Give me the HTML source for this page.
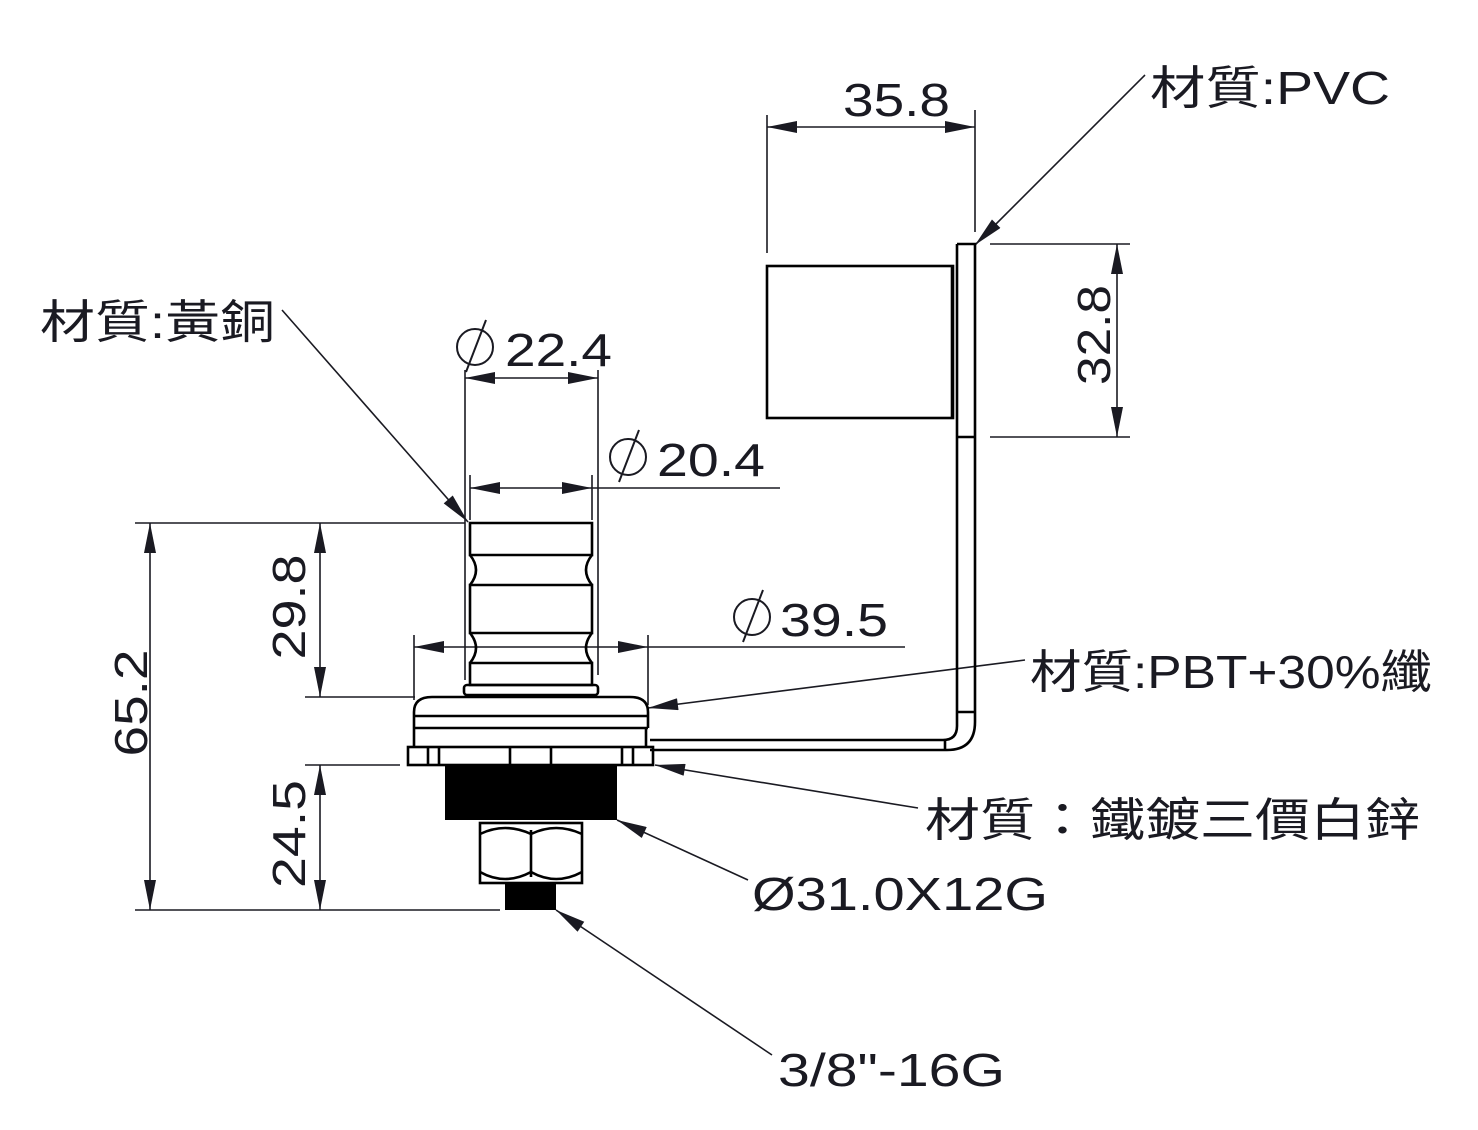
<!DOCTYPE html>
<html><head><meta charset="utf-8"><style>html,body{margin:0;padding:0;background:#fff}svg{display:block}
text{font-family:"Liberation Sans","Noto Sans CJK TC",sans-serif;fill:#1a1a22}</style></head>
<body>
<svg width="1478" height="1130" viewBox="0 0 1478 1130" xmlns="http://www.w3.org/2000/svg">
<defs>
<marker id="a" viewBox="0 0 10 4" refX="10" refY="2" markerWidth="42" markerHeight="12" markerUnits="userSpaceOnUse" orient="auto-start-reverse"><path d="M0,0 L10,2 L0,4z" fill="#1a1a22"/></marker>
</defs>
<g stroke="#1a1a22" stroke-width="1.6" fill="none">
<line x1="767" y1="115" x2="767" y2="253"/><line x1="975" y1="110" x2="975" y2="232"/>
<line x1="767" y1="127" x2="975" y2="127" marker-start="url(#a)" marker-end="url(#a)"/>
<line x1="990" y1="244" x2="1130" y2="244"/><line x1="990" y1="437" x2="1130" y2="437"/>
<line x1="1117" y1="244" x2="1117" y2="437" marker-start="url(#a)" marker-end="url(#a)"/>
<line x1="465" y1="370" x2="465" y2="680"/><line x1="598" y1="370" x2="598" y2="675"/>
<line x1="465" y1="378" x2="505" y2="378" marker-start="url(#a)"/><line x1="505" y1="378" x2="598" y2="378" marker-end="url(#a)"/>
<line x1="470" y1="475" x2="470" y2="520"/><line x1="592" y1="475" x2="592" y2="520"/>
<line x1="470" y1="488" x2="592" y2="488" marker-start="url(#a)" marker-end="url(#a)"/>
<line x1="592" y1="488" x2="780" y2="488"/>
<line x1="414" y1="635" x2="414" y2="700"/><line x1="648" y1="635" x2="648" y2="705"/>
<line x1="414" y1="647" x2="455" y2="647" marker-start="url(#a)"/>
<line x1="455" y1="647" x2="608" y2="647"/>
<line x1="608" y1="647" x2="648" y2="647" marker-end="url(#a)"/>
<line x1="648" y1="647" x2="905" y2="647"/>
<line x1="135" y1="523" x2="465" y2="523"/><line x1="305" y1="697" x2="415" y2="697"/>
<line x1="305" y1="765" x2="400" y2="765"/><line x1="135" y1="910" x2="500" y2="910"/>
<line x1="320" y1="523" x2="320" y2="697" marker-start="url(#a)" marker-end="url(#a)"/>
<line x1="150" y1="523" x2="150" y2="910" marker-start="url(#a)" marker-end="url(#a)"/>
<line x1="320" y1="765" x2="320" y2="910" marker-start="url(#a)" marker-end="url(#a)"/>
<line x1="282" y1="310" x2="468" y2="522" marker-end="url(#a)"/>
<line x1="1145" y1="75" x2="975" y2="245" marker-end="url(#a)"/>
<line x1="1025" y1="660" x2="648" y2="708" marker-end="url(#a)"/>
<line x1="918" y1="808" x2="655" y2="765" marker-end="url(#a)"/>
<line x1="748" y1="880" x2="617" y2="820" marker-end="url(#a)"/>
<line x1="772" y1="1055" x2="556" y2="910" marker-end="url(#a)"/>
</g>
<g stroke="#000" stroke-width="2.6" fill="none">
<path d="M957,244 L975,244 L975,722 Q975,750 947,750 L650,750"/>
<path d="M957,244 L957,726 Q957,740 943,740 L650,740"/>
<line x1="957" y1="437" x2="975" y2="437"/>
<line x1="945" y1="740" x2="945" y2="750"/>
<line x1="957" y1="712" x2="975" y2="712"/>
<rect x="767" y="266" width="186" height="152"/>
<line x1="952" y1="266" x2="952" y2="418"/>
<path d="M470,523 H592 V555 H470 Z"/>
<path d="M470,555 Q482,570 470,585 M592,555 Q580,570 592,585"/>
<path d="M470,585 H592 V633 H470 Z"/>
<path d="M470,633 Q482,648 470,663 M592,633 Q580,648 592,663"/>
<path d="M470,663 H592 V685 H470 Z"/>
<rect x="464" y="685" width="134" height="10" rx="3"/>
<path d="M414,728 V712 Q414,697 432,697 H630 Q648,697 648,712 V728"/>
<line x1="414" y1="716" x2="648" y2="716"/>
<line x1="414" y1="728" x2="648" y2="728"/>
<line x1="414" y1="728" x2="414" y2="747"/><line x1="646" y1="728" x2="646" y2="747"/>
<rect x="408" y="747" width="245" height="18"/>
<line x1="428" y1="747" x2="428" y2="765"/><line x1="439" y1="747" x2="439" y2="765"/>
<line x1="510" y1="747" x2="510" y2="765"/><line x1="551" y1="747" x2="551" y2="765"/>
<line x1="622" y1="747" x2="622" y2="765"/><line x1="633" y1="747" x2="633" y2="765"/>
<rect x="480" y="823" width="102" height="60"/>
<line x1="531" y1="830" x2="531" y2="877"/>
<path d="M480,834 Q505,822 531,834 Q556,822 582,834 M480,872 Q505,886 531,872 Q556,886 582,872"/>
</g>
<rect x="445" y="765" width="172" height="55" fill="#000"/>
<rect x="505" y="883" width="51" height="27" fill="#000"/>
<g font-size="46" lengthAdjust="spacingAndGlyphs">
<text x="843" y="116" textLength="107" lengthAdjust="spacingAndGlyphs">35.8</text>
<text x="1150" y="104" textLength="240" lengthAdjust="spacingAndGlyphs">材質:PVC</text>
<text x="40" y="338" textLength="235" lengthAdjust="spacingAndGlyphs">材質:黃銅</text>
<text x="505" y="366" textLength="107" lengthAdjust="spacingAndGlyphs">22.4</text>
<text x="657" y="476" textLength="108" lengthAdjust="spacingAndGlyphs">20.4</text>
<text x="780" y="636" textLength="108" lengthAdjust="spacingAndGlyphs">39.5</text>
<text x="1030" y="688" textLength="402" lengthAdjust="spacingAndGlyphs">材質:PBT+30%纖</text>
<text x="925" y="836" textLength="495" lengthAdjust="spacingAndGlyphs">材質：鐵鍍三價白鋅</text>
<text x="752" y="910" textLength="296" lengthAdjust="spacingAndGlyphs">Ø31.0X12G</text>
<text x="778" y="1086" textLength="227" lengthAdjust="spacingAndGlyphs">3/8"-16G</text>
<text transform="translate(1110,335) rotate(-90)" text-anchor="middle" textLength="100" lengthAdjust="spacingAndGlyphs">32.8</text>
<text transform="translate(305,607) rotate(-90)" text-anchor="middle" textLength="105" lengthAdjust="spacingAndGlyphs">29.8</text>
<text transform="translate(147,703) rotate(-90)" text-anchor="middle" textLength="107" lengthAdjust="spacingAndGlyphs">65.2</text>
<text transform="translate(305,834) rotate(-90)" text-anchor="middle" textLength="108" lengthAdjust="spacingAndGlyphs">24.5</text>
</g>
<g stroke="#1a1a22" stroke-width="2" fill="none">
<circle cx="475" cy="347" r="18"/><line x1="466" y1="372" x2="486" y2="320"/>
<circle cx="628" cy="457" r="18"/><line x1="619" y1="482" x2="639" y2="430"/>
<circle cx="752" cy="617" r="18"/><line x1="743" y1="642" x2="763" y2="590"/>
</g>
</svg>
</body></html>
